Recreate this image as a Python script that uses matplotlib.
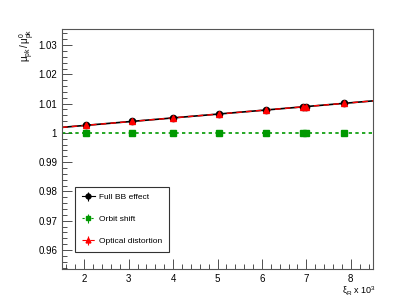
import numpy as np
import matplotlib
matplotlib.use('Agg')
import matplotlib.pyplot as plt
from matplotlib.ticker import MultipleLocator, FuncFormatter

plt.rcParams['font.family'] = ['Liberation Sans', 'DejaVu Sans']
plt.rcParams['mathtext.fontset'] = 'custom'
plt.rcParams['mathtext.rm'] = 'Liberation Sans'
plt.rcParams['mathtext.it'] = 'Liberation Sans'

# data
xi = [2.04, 3.07, 3.99, 5.03, 6.10, 6.93, 6.99, 7.84]
full_bb = [1.0026, 1.0039, 1.0051, 1.0065, 1.0078, 1.0089, 1.0090, 1.0101]
orbit = [1.0, 1.0, 1.0, 1.0, 1.0, 1.0, 1.0, 1.0]
optical = [1.0026, 1.0039, 1.0051, 1.0065, 1.0078, 1.0089, 1.0090, 1.0101]
err = [0.0002] * 8

fig = plt.figure(figsize=(4.15, 3.0), dpi=100)
ax = fig.add_axes([62/415, 1 - 269/300, 311/415, 240/300])
ax.set_xlim(1.5, 8.5)
ax.set_ylim(0.9535, 1.0355)

xs = np.array(ax.get_xlim())
series = [
    (full_bb, 'black', 'o', '-', 'Full BB effect', 1.2),
    (orbit, '#009900', 's', (0, (2, 2)), 'Orbit shift', 1.2),
    (optical, 'red', '^', (0, (4, 3)), 'Optical distortion', 1.0),
]
handles = []
for ys, c, m, ls, lab, lw in series:
    p = np.polyfit(xi, ys, 1)
    ax.plot(xs, np.polyval(p, xs), color=c, ls=ls, lw=lw, zorder=2)
    ax.errorbar(xi, ys, yerr=err, fmt=m, color=c, ms=4.5, capsize=1.5,
                elinewidth=0.8, ls='none', zorder=3)
    hl = ax.errorbar([], [], yerr=[], fmt=m, color=c, ms=3.5, capsize=1.5,
                     elinewidth=0.8, ls=ls, lw=0.8, label=lab)
    handles.append(hl)

leg = ax.legend(handles=handles, loc='lower left', bbox_to_anchor=(0.042, 0.071),
                borderaxespad=0, fontsize=6, frameon=True, fancybox=False,
                edgecolor='black', handlelength=1.6, borderpad=0.8,
                labelspacing=1.7, handletextpad=0.5)
leg.get_frame().set_linewidth(0.8)

ax.xaxis.set_major_locator(MultipleLocator(1))
ax.xaxis.set_minor_locator(MultipleLocator(0.2))
ax.yaxis.set_major_locator(MultipleLocator(0.01))
ax.yaxis.set_minor_locator(MultipleLocator(0.002))
ax.yaxis.set_major_formatter(FuncFormatter(lambda v, p: '%g' % round(v, 4)))
ax.tick_params(which='both', direction='in', top=False, right=False,
               labelsize=7, width=0.6, colors='#333333', labelcolor='black')
ax.tick_params(which='major', length=7)
ax.tick_params(which='minor', length=3.5)
for s in ax.spines.values():
    s.set_linewidth(0.8)
    s.set_color('#555555')

fig.text(18/415, 1 - 29/300, r'$\mu_{pk}\,/\,\mu^{0}_{pk}$', rotation=90, fontsize=7,
         ha='left', va='top')
fig.text(376/415, 1 - 297/300, r'$\xi_{R}$ x 10$^{3}$', fontsize=6.5, ha='right', va='bottom')

fig.savefig('out.png', dpi=100)
